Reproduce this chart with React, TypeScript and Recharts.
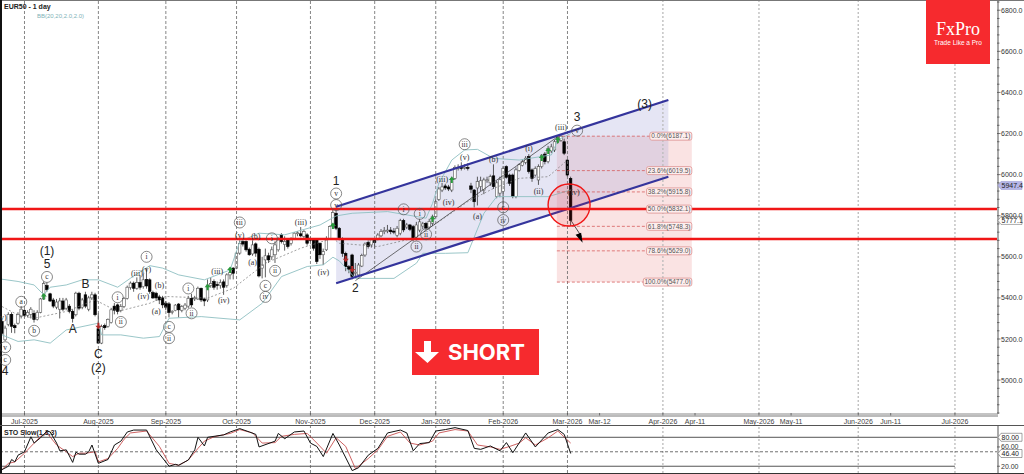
import React from 'react';
import { ComposedChart, Bar, Line, Area, XAxis, YAxis, ReferenceLine, ReferenceArea, ReferenceDot } from 'recharts';

// daily candles, one entry per trading day (Jul-2025 .. Mar-2026)
const opens = [
  5285, 5196, 5270, 5320, 5265, 5277, 5310, 5340, 5315, 5320,
  5325, 5295, 5330, 5395, 5460, 5420, 5390, 5355, 5345, 5385,
  5350, 5360, 5335, 5318, 5423, 5355, 5415, 5345, 5400, 5415,
  5250, 5180, 5265, 5262, 5280, 5360, 5366, 5340, 5358, 5398,
  5450, 5472, 5447, 5475, 5455, 5490, 5488, 5426, 5423, 5405,
  5400, 5375, 5371, 5330, 5338, 5370, 5340, 5350, 5360, 5398,
  5396, 5395, 5447, 5395, 5390, 5460, 5480, 5465, 5460, 5478,
  5460, 5512, 5545, 5545, 5618, 5675, 5675, 5637, 5614, 5663,
  5637, 5545, 5585, 5605, 5600, 5610, 5634, 5707, 5660, 5682,
  5666, 5690, 5712, 5712, 5700, 5707, 5685, 5682, 5682, 5666,
  5610, 5634, 5690, 5747, 5812, 5739, 5690, 5617, 5552, 5609,
  5520, 5512, 5555, 5609, 5670, 5658, 5679, 5690, 5702, 5722,
  5725, 5730, 5725, 5705, 5715, 5776, 5745, 5755, 5747, 5695,
  5730, 5750, 5763, 5745, 5763, 5795, 5880, 5925, 5945, 5940,
  5925, 5982, 6030, 6035, 6032, 6035, 5945, 5925, 5935, 5942,
  5925, 5970, 5960, 5994, 5893, 5910, 5917, 6039, 5998, 5998,
  5893, 6020, 6045, 6060, 6088, 6023, 5998, 5974, 6039, 6100,
  6063, 6115, 6120, 6160, 6167, 6160, 6071, 5982,
];
const highs = [
  5293, 5265, 5330, 5330, 5275, 5330, 5360, 5345, 5340, 5355,
  5340, 5340, 5400, 5480, 5475, 5425, 5400, 5395, 5400, 5400,
  5400, 5370, 5345, 5430, 5430, 5400, 5430, 5410, 5430, 5425,
  5325, 5270, 5275, 5300, 5350, 5375, 5372, 5370, 5405, 5460,
  5480, 5480, 5500, 5510, 5520, 5545, 5495, 5435, 5430, 5415,
  5410, 5385, 5380, 5340, 5370, 5375, 5365, 5375, 5410, 5420,
  5410, 5455, 5450, 5400, 5490, 5500, 5490, 5480, 5490, 5490,
  5520, 5540, 5550, 5625, 5680, 5680, 5680, 5645, 5680, 5670,
  5645, 5600, 5640, 5620, 5650, 5675, 5695, 5715, 5700, 5690,
  5695, 5720, 5725, 5745, 5730, 5715, 5695, 5690, 5690, 5670,
  5640, 5700, 5752, 5830, 5830, 5745, 5695, 5625, 5560, 5615,
  5570, 5570, 5615, 5670, 5680, 5690, 5690, 5715, 5735, 5745,
  5755, 5745, 5740, 5750, 5785, 5785, 5765, 5760, 5755, 5770,
  5785, 5770, 5770, 5785, 5805, 5880, 5940, 5960, 5955, 5950,
  5990, 6045, 6050, 6060, 6050, 6055, 5960, 5930, 5990, 5990,
  5985, 5990, 6000, 6050, 5970, 5990, 6040, 6045, 6005, 6005,
  6035, 6055, 6075, 6090, 6100, 6030, 6040, 6050, 6100, 6110,
  6140, 6150, 6170, 6187, 6195, 6175, 6075, 5990,
];
const lows = [
  5220, 5190, 5262, 5230, 5228, 5270, 5300, 5305, 5305, 5300,
  5280, 5290, 5325, 5390, 5430, 5380, 5350, 5345, 5300, 5335,
  5340, 5325, 5280, 5310, 5340, 5345, 5350, 5335, 5390, 5310,
  5177, 5175, 5245, 5255, 5275, 5320, 5320, 5330, 5350, 5392,
  5440, 5430, 5440, 5440, 5445, 5445, 5420, 5395, 5385, 5370,
  5350, 5340, 5305, 5320, 5335, 5305, 5330, 5340, 5350, 5355,
  5385, 5390, 5380, 5360, 5380, 5450, 5440, 5440, 5445, 5415,
  5450, 5490, 5490, 5540, 5610, 5650, 5625, 5605, 5605, 5600,
  5500, 5495, 5500, 5570, 5585, 5570, 5625, 5665, 5630, 5640,
  5655, 5685, 5700, 5695, 5690, 5655, 5670, 5630, 5565, 5590,
  5560, 5628, 5685, 5740, 5730, 5680, 5600, 5530, 5520, 5490,
  5498, 5500, 5550, 5600, 5640, 5645, 5640, 5680, 5695, 5710,
  5715, 5710, 5710, 5695, 5705, 5720, 5735, 5725, 5675, 5680,
  5720, 5735, 5730, 5735, 5750, 5790, 5872, 5915, 5925, 5920,
  5915, 5975, 6020, 6020, 6025, 6020, 5910, 5840, 5850, 5920,
  5905, 5960, 5945, 5930, 5885, 5890, 5840, 5980, 5945, 5885,
  5885, 6015, 6040, 6050, 6005, 5965, 5990, 5950, 6030, 6050,
  6055, 6105, 6110, 6150, 6160, 6095, 5990, 5750,
];
const closes = [
  5228, 5253, 5320, 5262, 5255, 5320, 5345, 5315, 5330, 5345,
  5295, 5330, 5395, 5470, 5440, 5385, 5360, 5380, 5385, 5345,
  5390, 5335, 5300, 5423, 5350, 5390, 5360, 5400, 5415, 5318,
  5180, 5260, 5255, 5295, 5342, 5340, 5334, 5358, 5398, 5452,
  5472, 5447, 5475, 5452, 5488, 5458, 5432, 5400, 5400, 5390,
  5366, 5355, 5329, 5335, 5365, 5342, 5358, 5365, 5398, 5366,
  5400, 5447, 5390, 5385, 5463, 5470, 5452, 5460, 5475, 5452,
  5512, 5525, 5520, 5618, 5666, 5662, 5634, 5610, 5658, 5618,
  5507, 5560, 5605, 5585, 5634, 5658, 5682, 5674, 5675, 5650,
  5682, 5715, 5717, 5702, 5723, 5666, 5680, 5642, 5577, 5610,
  5625, 5690, 5747, 5815, 5739, 5690, 5617, 5552, 5540, 5504,
  5525, 5560, 5606, 5662, 5650, 5682, 5669, 5706, 5723, 5728,
  5730, 5722, 5720, 5739, 5776, 5731, 5755, 5734, 5690, 5755,
  5770, 5760, 5740, 5772, 5795, 5868, 5930, 5940, 5935, 5930,
  5982, 6035, 6036, 6030, 6036, 6030, 5929, 5868, 5966, 5970,
  5974, 5975, 5990, 5942, 5960, 5975, 6030, 5987, 5958, 5893,
  6023, 6048, 6065, 6080, 6015, 5982, 6030, 6039, 6095, 6063,
  6128, 6135, 6160, 6180, 6187, 6104, 5998, 5777.1,
];

const upperDays = [0, 5, 10, 13, 15, 20, 25, 30, 36, 40, 46, 50, 55, 63, 71, 74, 80, 88, 99, 104, 109, 120, 132, 134, 136, 140, 144, 148, 153, 161, 171, 173, 177];
const upperVals = [5491, 5480, 5463, 5415, 5452, 5463, 5488, 5488, 5452, 5496, 5557, 5545, 5512, 5488, 5536, 5674, 5715, 5707, 5755, 5799, 5812, 5820, 5788, 5860, 5958, 6071, 6120, 6123, 6079, 6071, 6096, 6169, 6200];
const lowerDays = [0, 5, 10, 15, 20, 30, 31, 37, 44, 49, 52, 62, 74, 81, 87, 95, 100, 103, 105, 110, 122, 129, 131, 138, 145, 150, 154, 160, 170, 177];
const lowerVals = [5220, 5188, 5196, 5180, 5244, 5277, 5220, 5220, 5204, 5212, 5301, 5309, 5293, 5374, 5504, 5553, 5561, 5598, 5580, 5495, 5495, 5569, 5617, 5617, 5620, 5812, 5893, 5893, 5893, 5925];
const midDays = [0, 5, 10, 20, 29, 36, 46, 51, 64, 72, 82, 93, 103, 105, 117, 128, 136, 145, 153, 161, 170, 176];
const midVals = [5358, 5317, 5301, 5334, 5390, 5334, 5374, 5407, 5399, 5447, 5569, 5642, 5690, 5666, 5650, 5690, 5771, 5869, 5933, 5982, 5990, 6071];

// stochastic panel
const kDays = [0, 2, 3, 4, 5, 7, 9, 10, 12, 14, 15, 17, 18, 20, 22, 23, 24, 26, 27, 28, 30, 33, 35, 37, 39, 41, 45, 48, 52, 54, 55, 58, 60, 61, 63, 64, 69, 71, 74, 77, 79, 80, 85, 86, 88, 91, 94, 96, 98, 100, 103, 105, 109, 111, 114, 117, 120, 124, 126, 128, 130, 133, 135, 138, 141, 145, 147, 149, 152, 155, 157, 159, 163, 166, 170, 173, 175, 177];
const kVals = [13, 20, 34, 29, 43, 50, 81, 68, 79, 93, 91, 68, 52, 54, 28, 49, 45, 45, 50, 64, 26, 34, 64, 72, 91, 95, 95, 54, 20, 24, 22, 33, 54, 80, 62, 80, 85, 91, 98, 91, 86, 60, 72, 88, 77, 91, 93, 68, 61, 40, 88, 64, 11, 17, 43, 57, 89, 95, 89, 52, 67, 69, 93, 96, 100, 94, 57, 55, 62, 52, 69, 48, 89, 60, 89, 96, 86, 46.4];
const dDays = [0, 2, 4, 7, 10, 12, 14, 17, 20, 22, 24, 26, 29, 30, 33, 36, 38, 40, 45, 49, 52, 55, 58, 61, 63, 66, 71, 74, 78, 81, 85, 87, 91, 95, 98, 101, 104, 107, 110, 114, 117, 120, 124, 127, 130, 134, 136, 141, 145, 148, 152, 155, 158, 161, 163, 166, 170, 173, 177];
const dVals = [13, 26, 29, 47, 68, 82, 89, 64, 50, 40, 47, 47, 50, 29, 36, 57, 76, 89, 93, 61, 26, 22, 33, 57, 72, 81, 88, 96, 89, 68, 69, 82, 86, 88, 68, 47, 79, 61, 15, 36, 54, 82, 91, 68, 64, 72, 89, 96, 93, 64, 60, 55, 61, 68, 79, 64, 79, 93, 68];

// axis
const monthDays = [7, 30, 51, 73, 96, 116, 135, 156, 176, 186, 205.7, 215.7, 235.6, 245.6, 266.5, 276.6, 296.6];
const monthLabels = ['Jul-2025', 'Aug-2025', 'Sep-2025', 'Oct-2025', 'Nov-2025', 'Dec-2025', 'Jan-2026', 'Feb-2026', 'Mar-2026', 'Mar-12', 'Apr-2026', 'Apr-11', 'May-2026', 'May-11', 'Jun-2026', 'Jun-11', 'Jul-2026'];
const pastGrid = [7, 30, 51, 73, 96, 116, 135, 156, 176];
const futureGrid = [205.7, 235.6, 266.5, 296.6];

// elliott wave counts
const waveDays = [0, 1, 1, 1, 6, 10, 14, 14, 14, 26, 22, 30, 30, 36, 37, 45, 45, 42, 44, 49, 48, 52, 52, 58, 59, 67, 69, 74, 74, 79, 78, 82, 82, 84, 85, 93, 100, 104, 104, 104, 110, 125, 130, 132, 129, 137, 139, 144, 144, 153, 148, 156, 156, 164, 167, 174, 179, 179, 200, 178];
const wavePrices = [5306, 5160, 5098, 5042, 5381, 5240, 5502, 5564, 5626, 5467, 5248, 5126, 5061, 5403, 5283, 5600, 5540, 5523, 5410, 5462, 5338, 5259, 5204, 5446, 5325, 5532, 5390, 5767, 5707, 5702, 5575, 5459, 5405, 5690, 5532, 5768, 5528, 5852, 5908, 5971, 5449, 5831, 5809, 5710, 5650, 5979, 5869, 6088, 6148, 6075, 5799, 5841, 5779, 6128, 5922, 6234, 6214, 6279, 6342, 5917];
const waveTexts = ['(v)', 'v', 'c', '4', 'a', 'b', 'c', '5', '(1)', 'B', 'A', 'C', '(2)', 'i', 'ii', 'i', '(v)', '(iii)', '(iv)', '(b)', '(a)', 'c', 'ii', 'i', 'ii', '(iii)', '(iv)', 'iii', '(v)', '(b)', '(a)', 'c', 'iv', 'i', 'ii', '(iii)', '(iv)', 'v', 'v', '1', '2', 'i', 'i', 'ii', 'ii', '(iii)', '(iv)', '(v)', 'iii', '(b)', '(a)', 'c', 'iv', '(i)', '(ii)', '(iii)', 'v', '3', '(3)', '(iv)'];

// up / down signal arrows
const arrowDays = [13, 64, 71, 103, 134, 140, 168, 170, 173, 30, 107, 109];
const arrowPrices = [5407, 5452, 5536, 5750, 5783, 5974, 6081, 6115, 6169, 5264, 5590, 5541];
const arrowDirs = ['up', 'up', 'up', 'up', 'up', 'up', 'up', 'up', 'up', 'down', 'down', 'down'];

// fibonacci retracement
const fibLevels = [6187.1, 6019.5, 5915.8, 5832.1, 5748.3, 5629.0, 5477.0];
const fibLabels = ['0.0%(6187.1)', '23.6%(6019.5)', '38.2%(5915.8)', '50.0%(5832.1)', '61.8%(5748.3)', '78.6%(5629.0)', '100.0%(5477.0)'];
const fibStart = 172.7;
const fibEnd = 214.7;

// channel and support / resistance
const channelDays = [104, 207.4];
const channelLower = [5471, 5990];
const channelUpper = [5844, 6363];
const srLevels = [5833, 5687];
const priceTicks: number[] = [];
for (let p = 4840; p <= 6840; p += 40) priceTicks.push(p);

const rows = opens.map((o, i) => ({ s: i, open: o, high: highs[i], low: lows[i], close: closes[i], range: [lows[i], highs[i]] }));
const upperRows = upperDays.map((s, i) => ({ s, v: upperVals[i] }));
const lowerRows = lowerDays.map((s, i) => ({ s, v: lowerVals[i] }));
const midRows = midDays.map((s, i) => ({ s, v: midVals[i] }));
const kRows = kDays.map((s, i) => ({ s, k: kVals[i] }));
const dRows = dDays.map((s, i) => ({ s, d: dVals[i] }));
const channelRows = channelDays.map((s, i) => ({ s, band: [channelLower[i], channelUpper[i]] }));

const W = 1024;
const DOMAIN: [number, number] = [0, 310];
const SANS = '"Liberation Sans", Arial, sans-serif';
const SERIF = '"Liberation Serif", serif';

const Candle = (p: any) => {
  const { x, y, width, height, payload } = p;
  const { open, high, low, close } = payload;
  const k = height / (high - low);
  const cx = x + width / 2;
  const top = y + (high - Math.max(open, close)) * k;
  const bh = Math.max(1, Math.abs(open - close) * k);
  const up = close >= open;
  return (
    <g>
      <line x1={cx} x2={cx} y1={y} y2={y + height} stroke="#333" strokeWidth={0.8} />
      <rect x={cx - 1.3} y={top} width={2.6} height={bh} fill={up ? '#fff' : '#000'} stroke={up ? '#555' : '#000'} strokeWidth={0.6} />
    </g>
  );
};

const PriceTick = (p: any) => {
  const { x, y, payload } = p;
  const major = payload.value % 200 === 0;
  return (
    <g>
      <line x1={x - 1} x2={x + (major ? 2.5 : 1.5)} y1={y} y2={y} stroke="#444" strokeWidth={0.7} />
      {major && <text x={x + 3} y={y + 2.5} fontSize={7} fill="#333" fontFamily={SANS}>{payload.value.toFixed(1)}</text>}
    </g>
  );
};

const MonthTick = (p: any) => {
  const { x, y, payload, index } = p;
  return (
    <g>
      <line x1={x} x2={x} y1={y - 1} y2={y + 1.5} stroke="#555" strokeWidth={0.8} />
      <text x={x} y={y + 9.5} fontSize={7} fill="#444" textAnchor="middle" fontFamily={SANS}>{monthLabels[index]}</text>
    </g>
  );
};

const StoTick = (p: any) => {
  const { x, y, payload } = p;
  return (
    <g>
      <line x1={x - 1} x2={x + 2} y1={y} y2={y} stroke="#444" strokeWidth={0.7} />
      <text x={x + 3} y={y + 2.5} fontSize={7} fill="#333" fontFamily={SANS}>{payload.value.toFixed(2)}</text>
    </g>
  );
};

const WaveMark = ({ cx, cy, text }: any) => {
  if (/^[0-9A-C]$/.test(text) || text === '(1)' || text === '(2)' || text === '(3)') {
    return <text x={cx} y={cy + 4} fontSize={12} fill="#222" textAnchor="middle" fontFamily={SANS}>{text}</text>;
  }
  if (text.startsWith('(')) {
    return <text x={cx} y={cy + 3} fontSize={8} fill="#333" textAnchor="middle" fontFamily={SERIF}>{text}</text>;
  }
  return (
    <g>
      <circle cx={cx} cy={cy} r={5.5} fill="none" stroke="#555" strokeWidth={0.7} />
      <text x={cx} y={cy + 2.5} fontSize={7.5} fill="#333" textAnchor="middle" fontFamily={SERIF}>{text}</text>
    </g>
  );
};

const SignalArrow = ({ cx, cy, dir }: any) => {
  const s = dir === 'up' ? -1 : 1;
  const fill = dir === 'up' ? '#2a9a3c' : '#b02a2a';
  return <polygon points={`${cx},${cy + 3.5 * s} ${cx - 3},${cy} ${cx - 1},${cy} ${cx - 1},${cy - 3 * s} ${cx + 1},${cy - 3 * s} ${cx + 1},${cy} ${cx + 3},${cy}`} fill={fill} />;
};

const FibTag = ({ cx, cy, text }: any) => {
  const w = text.length * 3.25 + 3;
  return (
    <g>
      <rect x={cx - w} y={cy - 4} width={w} height={8} rx={2} fill="#fdeeee" stroke="#dd9090" strokeWidth={0.8} />
      <text x={cx - w / 2} y={cy + 2.3} fontSize={6.5} fill="#555" textAnchor="middle" fontFamily={SANS}>{text}</text>
    </g>
  );
};

const PriceBadge = ({ cx, cy, text, fill, stroke }: any) => (
  <g>
    <polygon points={`${cx},${cy} ${cx + 3},${cy - 4} ${cx + 24},${cy - 4} ${cx + 24},${cy + 4} ${cx + 3},${cy + 4}`} fill={fill} stroke={stroke} strokeWidth={0.6} />
    <text x={cx + 3.5} y={cy + 2.6} fontSize={7} fill="#222" fontFamily={SANS}>{text}</text>
  </g>
);

const ArrowHead = ({ cx, cy }: any) => (
  <polygon points={`${cx + 1},${cy + 6} ${cx - 6},${cy - 2} ${cx - 0.5},${cy - 4}`} fill="#000" />
);

export default function App() {
  return (
    <div style={{ position: 'absolute', left: 0, top: 0, width: W, height: 474, background: '#fff', overflow: 'hidden', fontFamily: SANS }}>
      <div style={{ position: 'absolute', left: 0, top: 0, width: W, height: 1, background: '#777' }} />
      <div style={{ position: 'absolute', left: 0, top: 0, width: 2, height: 474, background: '#111' }} />
      <div style={{ position: 'absolute', left: 0, top: 425, width: W, height: 1, background: '#555' }} />
      <div style={{ position: 'absolute', left: 0, top: 473, width: W, height: 1, background: '#333' }} />
      <div style={{ position: 'absolute', left: 2, top: 415, width: 996, height: 1.5, background: '#bbb' }} />

      <div style={{ position: 'absolute', left: 0, top: 0 }}>
        <ComposedChart width={W} height={426} data={rows} margin={{ top: 1, right: 0, bottom: 0, left: 2 }}>
          <XAxis dataKey="s" type="number" domain={DOMAIN} allowDataOverflow ticks={monthDays} interval={0} height={12} tickSize={0} tickMargin={0} tick={<MonthTick />} tickLine={false} axisLine={{ stroke: '#888' }} />
          <YAxis orientation="right" width={26} domain={[4835, 6845]} allowDataOverflow ticks={priceTicks} interval={0} tickSize={0} tickMargin={0} tick={<PriceTick />} tickLine={false} axisLine={{ stroke: '#aaa', strokeWidth: 2 }} />

          {pastGrid.map((d) => <ReferenceLine key={d} x={d} stroke="#666" strokeWidth={0.8} strokeDasharray="3 2" />)}
          {futureGrid.map((d) => <ReferenceLine key={d} x={d} stroke="#bbb" strokeWidth={1.3} strokeDasharray="2 2" />)}

          <ReferenceArea x1={fibStart} x2={fibEnd} y1={fibLevels[6]} y2={fibLevels[0]} fill="#ec9a9a" fillOpacity={0.28} stroke="none" />
          <Area data={channelRows} dataKey="band" type="linear" fill="#a8a8dc" fillOpacity={0.3} stroke="none" isAnimationActive={false} />

          <Line data={upperRows} dataKey="v" type="linear" stroke="#8fbfc2" strokeWidth={0.9} dot={false} isAnimationActive={false} />
          <Line data={lowerRows} dataKey="v" type="linear" stroke="#8fbfc2" strokeWidth={0.9} dot={false} isAnimationActive={false} />
          <Line data={midRows} dataKey="v" type="linear" stroke="#777" strokeWidth={0.7} strokeDasharray="2 2" dot={false} isAnimationActive={false} />

          <Bar dataKey="range" barSize={3} shape={<Candle />} isAnimationActive={false} />

          <ReferenceLine segment={[{ x: 110, y: 5484 }, { x: 173.7, y: 6193 }]} stroke="#333" strokeWidth={0.7} />
          {fibLevels.map((v) => <ReferenceLine key={v} segment={[{ x: fibStart, y: v }, { x: fibEnd, y: v }]} stroke="#d24a4a" strokeWidth={0.7} strokeDasharray="3 2" />)}

          <ReferenceLine segment={[{ x: channelDays[0], y: channelUpper[0] }, { x: channelDays[1], y: channelUpper[1] }]} stroke="#34349c" strokeWidth={2.2} />
          <ReferenceLine segment={[{ x: channelDays[0], y: channelLower[0] }, { x: channelDays[1], y: channelLower[1] }]} stroke="#34349c" strokeWidth={2.2} />

          {srLevels.map((v) => <ReferenceLine key={v} y={v} stroke="#f01616" strokeWidth={2.4} />)}

          <ReferenceDot x={176.5} y={5852} r={21} fill="#ff2020" fillOpacity={0.12} stroke="#f01616" strokeWidth={1.4} />

          <ReferenceLine segment={[{ x: 177, y: 5779 }, { x: 180.4, y: 5698 }]} stroke="#222" strokeWidth={0.8} />
          <ReferenceDot x={180.4} y={5698} shape={(p: any) => <ArrowHead cx={p.cx} cy={p.cy} />} />

          {arrowDays.map((d, i) => <ReferenceDot key={`a${i}`} x={d} y={arrowPrices[i]} shape={(p: any) => <SignalArrow cx={p.cx} cy={p.cy} dir={arrowDirs[i]} />} />)}
          {waveDays.map((d, i) => <ReferenceDot key={`w${i}`} x={d} y={wavePrices[i]} shape={(p: any) => <WaveMark cx={p.cx} cy={p.cy} text={waveTexts[i]} />} />)}
          {fibLevels.map((v, i) => <ReferenceDot key={`f${i}`} x={fibEnd} y={v} shape={(p: any) => <FibTag cx={p.cx} cy={p.cy} text={fibLabels[i]} />} />)}

          <ReferenceDot x={310} y={5947.4} shape={(p: any) => <PriceBadge cx={p.cx} cy={p.cy} text="5947.4" fill="#b6b6e8" stroke="#9a9ad0" />} />
          <ReferenceDot x={310} y={5777.1} shape={(p: any) => <PriceBadge cx={p.cx} cy={p.cy} text="5777.1" fill="#fff" stroke="#777" />} />
        </ComposedChart>
      </div>

      <div style={{ position: 'absolute', left: 0, top: 426 }}>
        <ComposedChart width={W} height={47} margin={{ top: 0, right: 0, bottom: 0, left: 2 }}>
          <XAxis dataKey="s" type="number" domain={DOMAIN} allowDataOverflow hide height={0} />
          <YAxis orientation="right" width={26} domain={[6, 103.4]} allowDataOverflow ticks={[60, 20]} interval={0} tickSize={0} tickMargin={0} tick={<StoTick />} tickLine={false} axisLine={{ stroke: '#aaa', strokeWidth: 2 }} />

          {pastGrid.map((d) => <ReferenceLine key={d} x={d} stroke="#666" strokeWidth={0.8} strokeDasharray="3 2" />)}
          {futureGrid.map((d) => <ReferenceLine key={d} x={d} stroke="#bbb" strokeWidth={1.3} strokeDasharray="2 2" />)}

          <ReferenceLine y={80} stroke="#555" strokeWidth={1} />
          <ReferenceLine y={50} stroke="#333" strokeWidth={0.7} strokeDasharray="3 2" />
          <ReferenceLine segment={[{ x: 0, y: 20 }, { x: 296.6, y: 20 }]} stroke="#555" strokeWidth={1} />

          <Line data={dRows} dataKey="d" type="linear" stroke="#c23b3b" strokeWidth={0.8} dot={false} isAnimationActive={false} />
          <Line data={kRows} dataKey="k" type="linear" stroke="#111" strokeWidth={1} dot={false} isAnimationActive={false} />

          <ReferenceDot x={310} y={80} shape={(p: any) => <PriceBadge cx={p.cx} cy={p.cy} text="80.00" fill="#fff" stroke="#666" />} />
          <ReferenceDot x={310} y={46.4} shape={(p: any) => <PriceBadge cx={p.cx} cy={p.cy} text="46.40" fill="#fff" stroke="#666" />} />
        </ComposedChart>
      </div>

      <div style={{ position: 'absolute', left: 4, top: 2, fontSize: 7, fontWeight: 700, color: '#222', lineHeight: '10px' }}>EUR50 - 1 day</div>
      <div style={{ position: 'absolute', left: 37, top: 12, fontSize: 6, color: '#7fb3b8', lineHeight: '8px' }}>BB(20,20,2.0,2.0)</div>
      <div style={{ position: 'absolute', left: 4, top: 428, fontSize: 7, fontWeight: 700, color: '#222', lineHeight: '9px' }}>STO Slow(1,3,3)</div>

      <div style={{ position: 'absolute', left: 926, top: 0, width: 64, height: 64, background: '#f62a2e', color: '#fff', textAlign: 'center' }}>
        <div style={{ fontFamily: SERIF, fontSize: 18, marginTop: 19, lineHeight: '20px' }}>FxPro</div>
        <div style={{ fontSize: 6.5, lineHeight: '7px', marginTop: 0 }}>Trade Like a Pro</div>
      </div>

      <div style={{ position: 'absolute', left: 412, top: 329, width: 127, height: 46, background: '#f62a2e' }}>
        <svg width={127} height={46} style={{ position: 'absolute', left: 0, top: 0 }}>
          <polygon points="12,12 19,12 19,23 27,23 15.5,34 3,23 12,23" fill="#fff" />
        </svg>
        <div style={{ position: 'absolute', left: 36, top: 9, color: '#fff', fontWeight: 700, fontSize: 22, lineHeight: '28px', fontFamily: 'Inter, sans-serif' }}>SHORT</div>
      </div>
    </div>
  );
}
